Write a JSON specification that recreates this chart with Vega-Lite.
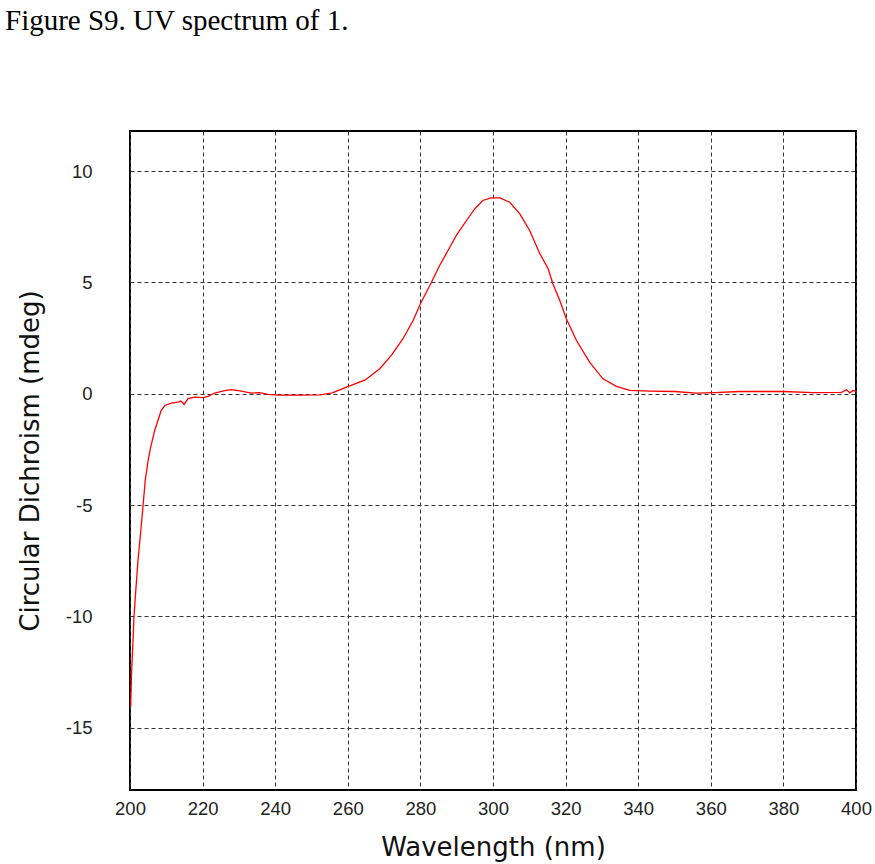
{
  "$schema": "https://vega.github.io/schema/vega-lite/v6.json",
  "width": 726,
  "height": 659,
  "autosize": {"type": "none"},
  "padding": {"left": 130, "top": 131, "right": 19, "bottom": 74},
  "background": "white",
  "title": {
    "text": "Figure S9. UV spectrum of 1.",
    "anchor": "start",
    "frame": "group",
    "dx": -125,
    "offset": 95,
    "font": "Liberation Serif",
    "fontSize": 29,
    "fontWeight": "normal",
    "color": "black"
  },
  "config": {
    "view": {"stroke": "black", "strokeWidth": 2},
    "axis": {
      "grid": true,
      "gridColor": "#333333",
      "gridDash": [4, 3],
      "gridWidth": 1,
      "gridOpacity": 1,
      "domain": false,
      "ticks": false,
      "labelFlush": false,
      "labelFont": "Liberation Sans",
      "labelFontSize": 18.5,
      "labelColor": "#222222",
      "labelExpr": "toString(datum.value)",
      "titleFont": "DejaVu Sans",
      "titleFontSize": 26,
      "titleFontWeight": "normal",
      "titleColor": "#111111"
    }
  },
  "data": {
    "values": [
      {"wl": 200.2, "cd": -14.07},
      {"wl": 200.4, "cd": -12.65},
      {"wl": 200.8, "cd": -11.2},
      {"wl": 201.1, "cd": -10.0},
      {"wl": 201.6, "cd": -8.83},
      {"wl": 202.2, "cd": -7.49},
      {"wl": 202.9, "cd": -6.29},
      {"wl": 203.6, "cd": -5.02},
      {"wl": 204.2, "cd": -3.89},
      {"wl": 205.0, "cd": -2.99},
      {"wl": 205.7, "cd": -2.4},
      {"wl": 206.8, "cd": -1.65},
      {"wl": 207.7, "cd": -1.2},
      {"wl": 208.6, "cd": -0.75},
      {"wl": 209.6, "cd": -0.53},
      {"wl": 211.4, "cd": -0.42},
      {"wl": 213.2, "cd": -0.38},
      {"wl": 214.0, "cd": -0.33},
      {"wl": 214.9, "cd": -0.48},
      {"wl": 216.0, "cd": -0.22},
      {"wl": 217.8, "cd": -0.15},
      {"wl": 220.1, "cd": -0.18},
      {"wl": 221.5, "cd": -0.12},
      {"wl": 223.3, "cd": 0.03},
      {"wl": 226.1, "cd": 0.14},
      {"wl": 227.9, "cd": 0.18},
      {"wl": 230.7, "cd": 0.12},
      {"wl": 233.4, "cd": 0.03},
      {"wl": 235.7, "cd": 0.05},
      {"wl": 238.0, "cd": -0.03},
      {"wl": 240.8, "cd": -0.06},
      {"wl": 246.3, "cd": -0.06},
      {"wl": 252.5, "cd": -0.05},
      {"wl": 255.7, "cd": 0.04},
      {"wl": 260.0, "cd": 0.32},
      {"wl": 264.8, "cd": 0.62},
      {"wl": 268.8, "cd": 1.12},
      {"wl": 272.0, "cd": 1.72},
      {"wl": 275.2, "cd": 2.47},
      {"wl": 278.0, "cd": 3.29},
      {"wl": 280.0, "cd": 4.04},
      {"wl": 282.6, "cd": 4.86},
      {"wl": 285.3, "cd": 5.76},
      {"wl": 287.6, "cd": 6.43},
      {"wl": 289.9, "cd": 7.11},
      {"wl": 292.7, "cd": 7.78},
      {"wl": 295.0, "cd": 8.31},
      {"wl": 297.2, "cd": 8.68},
      {"wl": 299.5, "cd": 8.8},
      {"wl": 301.9, "cd": 8.8},
      {"wl": 304.6, "cd": 8.6},
      {"wl": 307.4, "cd": 8.08},
      {"wl": 310.1, "cd": 7.33},
      {"wl": 312.9, "cd": 6.29},
      {"wl": 315.2, "cd": 5.61},
      {"wl": 316.5, "cd": 4.94},
      {"wl": 318.4, "cd": 4.19},
      {"wl": 320.2, "cd": 3.37},
      {"wl": 323.0, "cd": 2.39},
      {"wl": 326.6, "cd": 1.42},
      {"wl": 330.3, "cd": 0.67},
      {"wl": 334.0, "cd": 0.33},
      {"wl": 337.7, "cd": 0.15},
      {"wl": 343.2, "cd": 0.12},
      {"wl": 350.0, "cd": 0.1},
      {"wl": 356.0, "cd": 0.03},
      {"wl": 361.0, "cd": 0.05},
      {"wl": 368.0, "cd": 0.1},
      {"wl": 375.0, "cd": 0.1},
      {"wl": 380.0, "cd": 0.1},
      {"wl": 388.0, "cd": 0.05},
      {"wl": 396.0, "cd": 0.06},
      {"wl": 397.4, "cd": 0.18},
      {"wl": 398.3, "cd": 0.04},
      {"wl": 399.2, "cd": 0.15},
      {"wl": 400.0, "cd": 0.1}
    ]
  },
  "mark": {"type": "line", "color": "#ff0000", "strokeWidth": 1.3, "clip": true},
  "encoding": {
    "x": {
      "field": "wl",
      "type": "quantitative",
      "scale": {"domain": [200, 400], "nice": false, "zero": false},
      "axis": {"values": [200, 220, 240, 260, 280, 300, 320, 340, 360, 380, 400], "labelPadding": 9, "title": "Wavelength (nm)", "titlePadding": 17}
    },
    "y": {
      "field": "cd",
      "type": "quantitative",
      "scale": {"domain": [-17.8, 11.8], "nice": false, "zero": false},
      "axis": {"values": [-15, -10, -5, 0, 5, 10], "labelPadding": 38, "title": "Circular Dichroism (mdeg)", "titlePadding": 22}
    }
  }
}
